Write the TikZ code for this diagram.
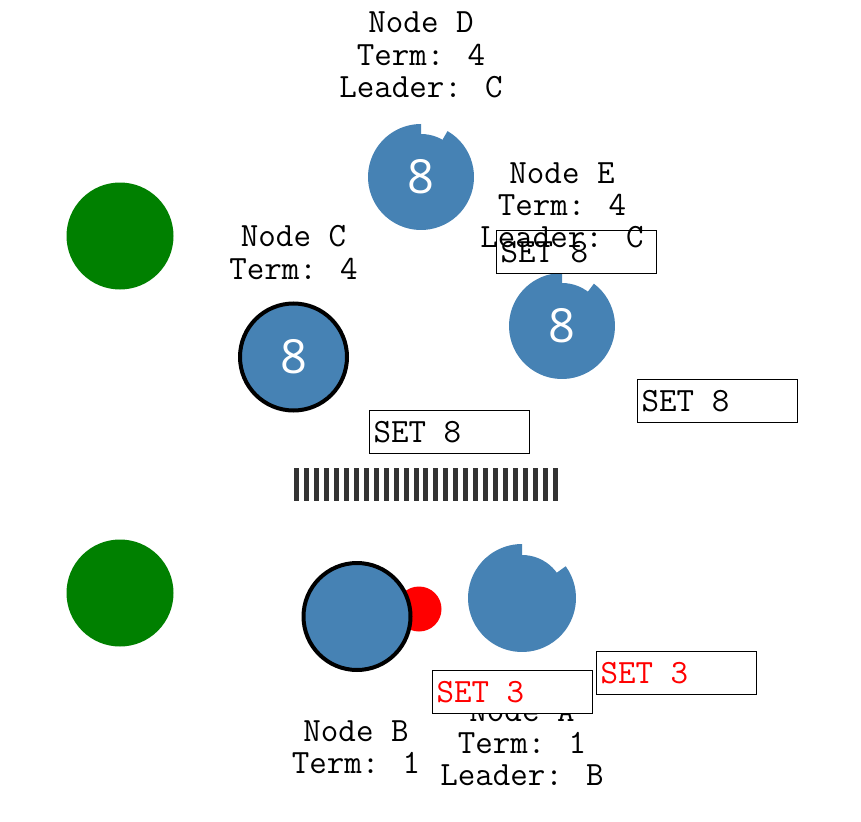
\documentclass[tikz,border=0pt]{standalone}
\usepackage{fontspec}
\newfontfamily\digitfont{Open Sans}
\definecolor{steel}{HTML}{4682B4}
\definecolor{grn}{HTML}{008000}
\definecolor{barc}{HTML}{333333}
\begin{document}
\begin{tikzpicture}[x=1pt,y=-1pt,
  lbl/.style={font=\ttfamily\fontsize{34}{36}\selectfont, inner sep=0pt, anchor=base, text=black},
  settxt/.style={font=\ttfamily\fontsize{34}{36}\selectfont, inner sep=0pt, anchor=west},
  setbox/.style={draw=black, line width=1.3pt, minimum width=160pt, minimum height=43pt, inner sep=0pt, anchor=north west},
  pie/.style={circle, fill=steel, minimum size=86pt, inner sep=0pt, text=white, font=\digitfont\fontsize{47}{50}\selectfont},
  ring/.style={circle, fill=steel, draw=black, line width=4pt, minimum size=107pt, inner sep=0pt, text=white, font=\digitfont\fontsize{47}{50}\selectfont},
  dot/.style={circle, fill=grn, minimum size=107pt, inner sep=0pt},
  reddot/.style={circle, fill=red, minimum size=45pt, inner sep=0pt}]
\useasboundingbox (0,0) rectangle (861,821);
\fill[white] (0,0) rectangle (861,821);

% green circles
\node[dot] (G1) at (120,236) {};
\node[dot] (G2) at (120,593) {};

% notched circles
\coordinate (Dc) at (421,177);
\fill[steel] (Dc) -- ++(60:53pt) arc[start angle=60, end angle=-270, radius=53pt] -- cycle;
\node[pie] (D) at (Dc) {8};

\coordinate (Ec) at (562,326);
\fill[steel] (Ec) -- ++(53:53pt) arc[start angle=53, end angle=-270, radius=53pt] -- cycle;
\node[pie] (E) at (Ec) {8};

\coordinate (Ac) at (522,598);
\fill[steel] (Ac) -- ++(36:54pt) arc[start angle=36, end angle=-270, radius=54pt] -- cycle;
\node[pie] (A) at (Ac) {};

% ringed circles
\node[ring] (C) at (293.5,357) {8};
\node[reddot] (R) at (419,609) {};
\node[ring] (B) at (357,616.5) {};

% bars
\foreach \i in {0,...,26} {
  \fill[barc] (294+\i*9.96,468) rectangle ++(5,33);
}

% boxes (behind labels)
\node[setbox, fill=white] (S1) at (496,230) {};
\node[settxt] (S1t) at ([xshift=4.5pt]S1.west) {SET 8};
\node[setbox, fill=white] (S2) at (369,410) {};
\node[settxt] (S2t) at ([xshift=4.5pt]S2.west) {SET 8};
\node[setbox, fill=white] (S3) at (637,379) {};
\node[settxt] (S3t) at ([xshift=4.5pt]S3.west) {SET 8};
\node[setbox, fill=white] (S5) at (596,651) {};
\node[settxt, text=red] (S5t) at ([xshift=4.5pt]S5.west) {SET 3};

% labels
\node[lbl] (LD1) at (421,33) {Node D};
\node[lbl] (LD2) at (421,65.5) {Term: 4};
\node[lbl] (LD3) at (421,98) {Leader: C};

\node[lbl] (LE1) at (562,183) {Node E};
\node[lbl] (LE2) at (562,215) {Term: 4};
\node[lbl] (LE3) at (562,247) {Leader: C};

\node[lbl] (LC1) at (293.5,246.5) {Node C};
\node[lbl] (LC2) at (293.5,279) {Term: 4};

\node[lbl] (LB1) at (356,741.5) {Node B};
\node[lbl] (LB2) at (356,773.5) {Term: 1};

\node[lbl] (LA1) at (522,721.5) {Node A};
\node[lbl] (LA2) at (522,753.5) {Term: 1};
\node[lbl] (LA3) at (522,785.5) {Leader: B};

% box over node A label
\node[setbox, fill=white] (S4) at (432,670) {};
\node[settxt, text=red] (S4t) at ([xshift=4.5pt]S4.west) {SET 3};
\end{tikzpicture}
\end{document}
